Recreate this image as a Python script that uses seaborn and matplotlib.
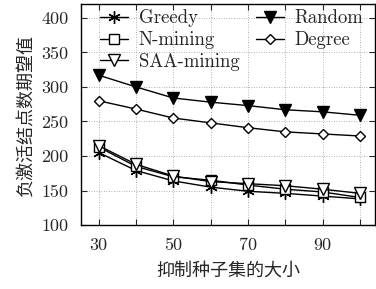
import matplotlib
matplotlib.use('Agg')
import matplotlib.pyplot as plt
import seaborn as sns
import pandas as pd

sizes = [30, 40, 50, 60, 70, 80, 90, 100]
greedy = [205, 179, 164, 155, 149, 146, 142, 138]
n_mining = [213, 185, 170, 165, 158, 152, 148, 140]
saa_mining = [215, 188, 171, 163, 160, 157, 152, 146]
random_sel = [317, 300, 284, 278, 273, 267, 264, 259]
degree = [280, 268, 255, 248, 241, 235, 232, 229]

series = [
    ('Greedy', greedy, (6, 2, 0), 'black', 9),
    ('N-mining', n_mining, 's', 'white', 7),
    ('SAA-mining', saa_mining, 'v', 'white', 8),
    ('Random', random_sel, 'v', 'black', 9),
    ('Degree', degree, 'D', 'white', 5.5),
]

sns.set_style('ticks')
plt.rcParams['font.family'] = ['Noto Sans CJK SC', 'DejaVu Sans']

fig = plt.figure(figsize=(3.76, 2.89), dpi=100)
ax = fig.add_axes([0.215, 0.221, 0.782, 0.765])

for name, vals, mk, fc, ms in series:
    df = pd.DataFrame({'size': sizes, 'value': vals})
    sns.lineplot(data=df, x='size', y='value', ax=ax, color='black', lw=1.0,
                 marker=mk, markersize=ms,
                 markerfacecolor=fc, markeredgecolor='black', markeredgewidth=1.0,
                 label=name)

ax.set_xlim(25.2, 104)
ax.set_ylim(100, 420)
ax.set_xticks(sizes)
ax.set_xticklabels([str(s) if s in (30, 50, 70, 90) else '' for s in sizes])
yt = [100, 150, 200, 250, 300, 350, 400]
ax.set_yticks(yt)
ax.set_yticklabels([str(v) for v in yt])
ax.tick_params(direction='in', top=True, right=True, labelsize=13, length=4, width=0.8)
ax.tick_params(axis='x', pad=9)
ax.tick_params(axis='y', pad=9)
for lab in ax.get_xticklabels() + ax.get_yticklabels():
    lab.set_family('cmr10')
ax.grid(True, color='#999999', linestyle=(0, (1, 2)), linewidth=0.6)
for s in ax.spines.values():
    s.set_linewidth(1.0)
    s.set_color('black')

ax.set_xlabel('抑制种子集的大小', fontsize=13, labelpad=6)
ax.set_ylabel('负激活结点数期望值', fontsize=13, labelpad=5)

ax.legend(loc='upper left', ncol=2, frameon=False, prop={'family': 'cmr10', 'size': 13.5},
          handlelength=1.5, columnspacing=0.9, labelspacing=0.2,
          borderaxespad=0.0, handletextpad=0.55, bbox_to_anchor=(0.04, 1.01))

fig.savefig('out.png', dpi=100)
